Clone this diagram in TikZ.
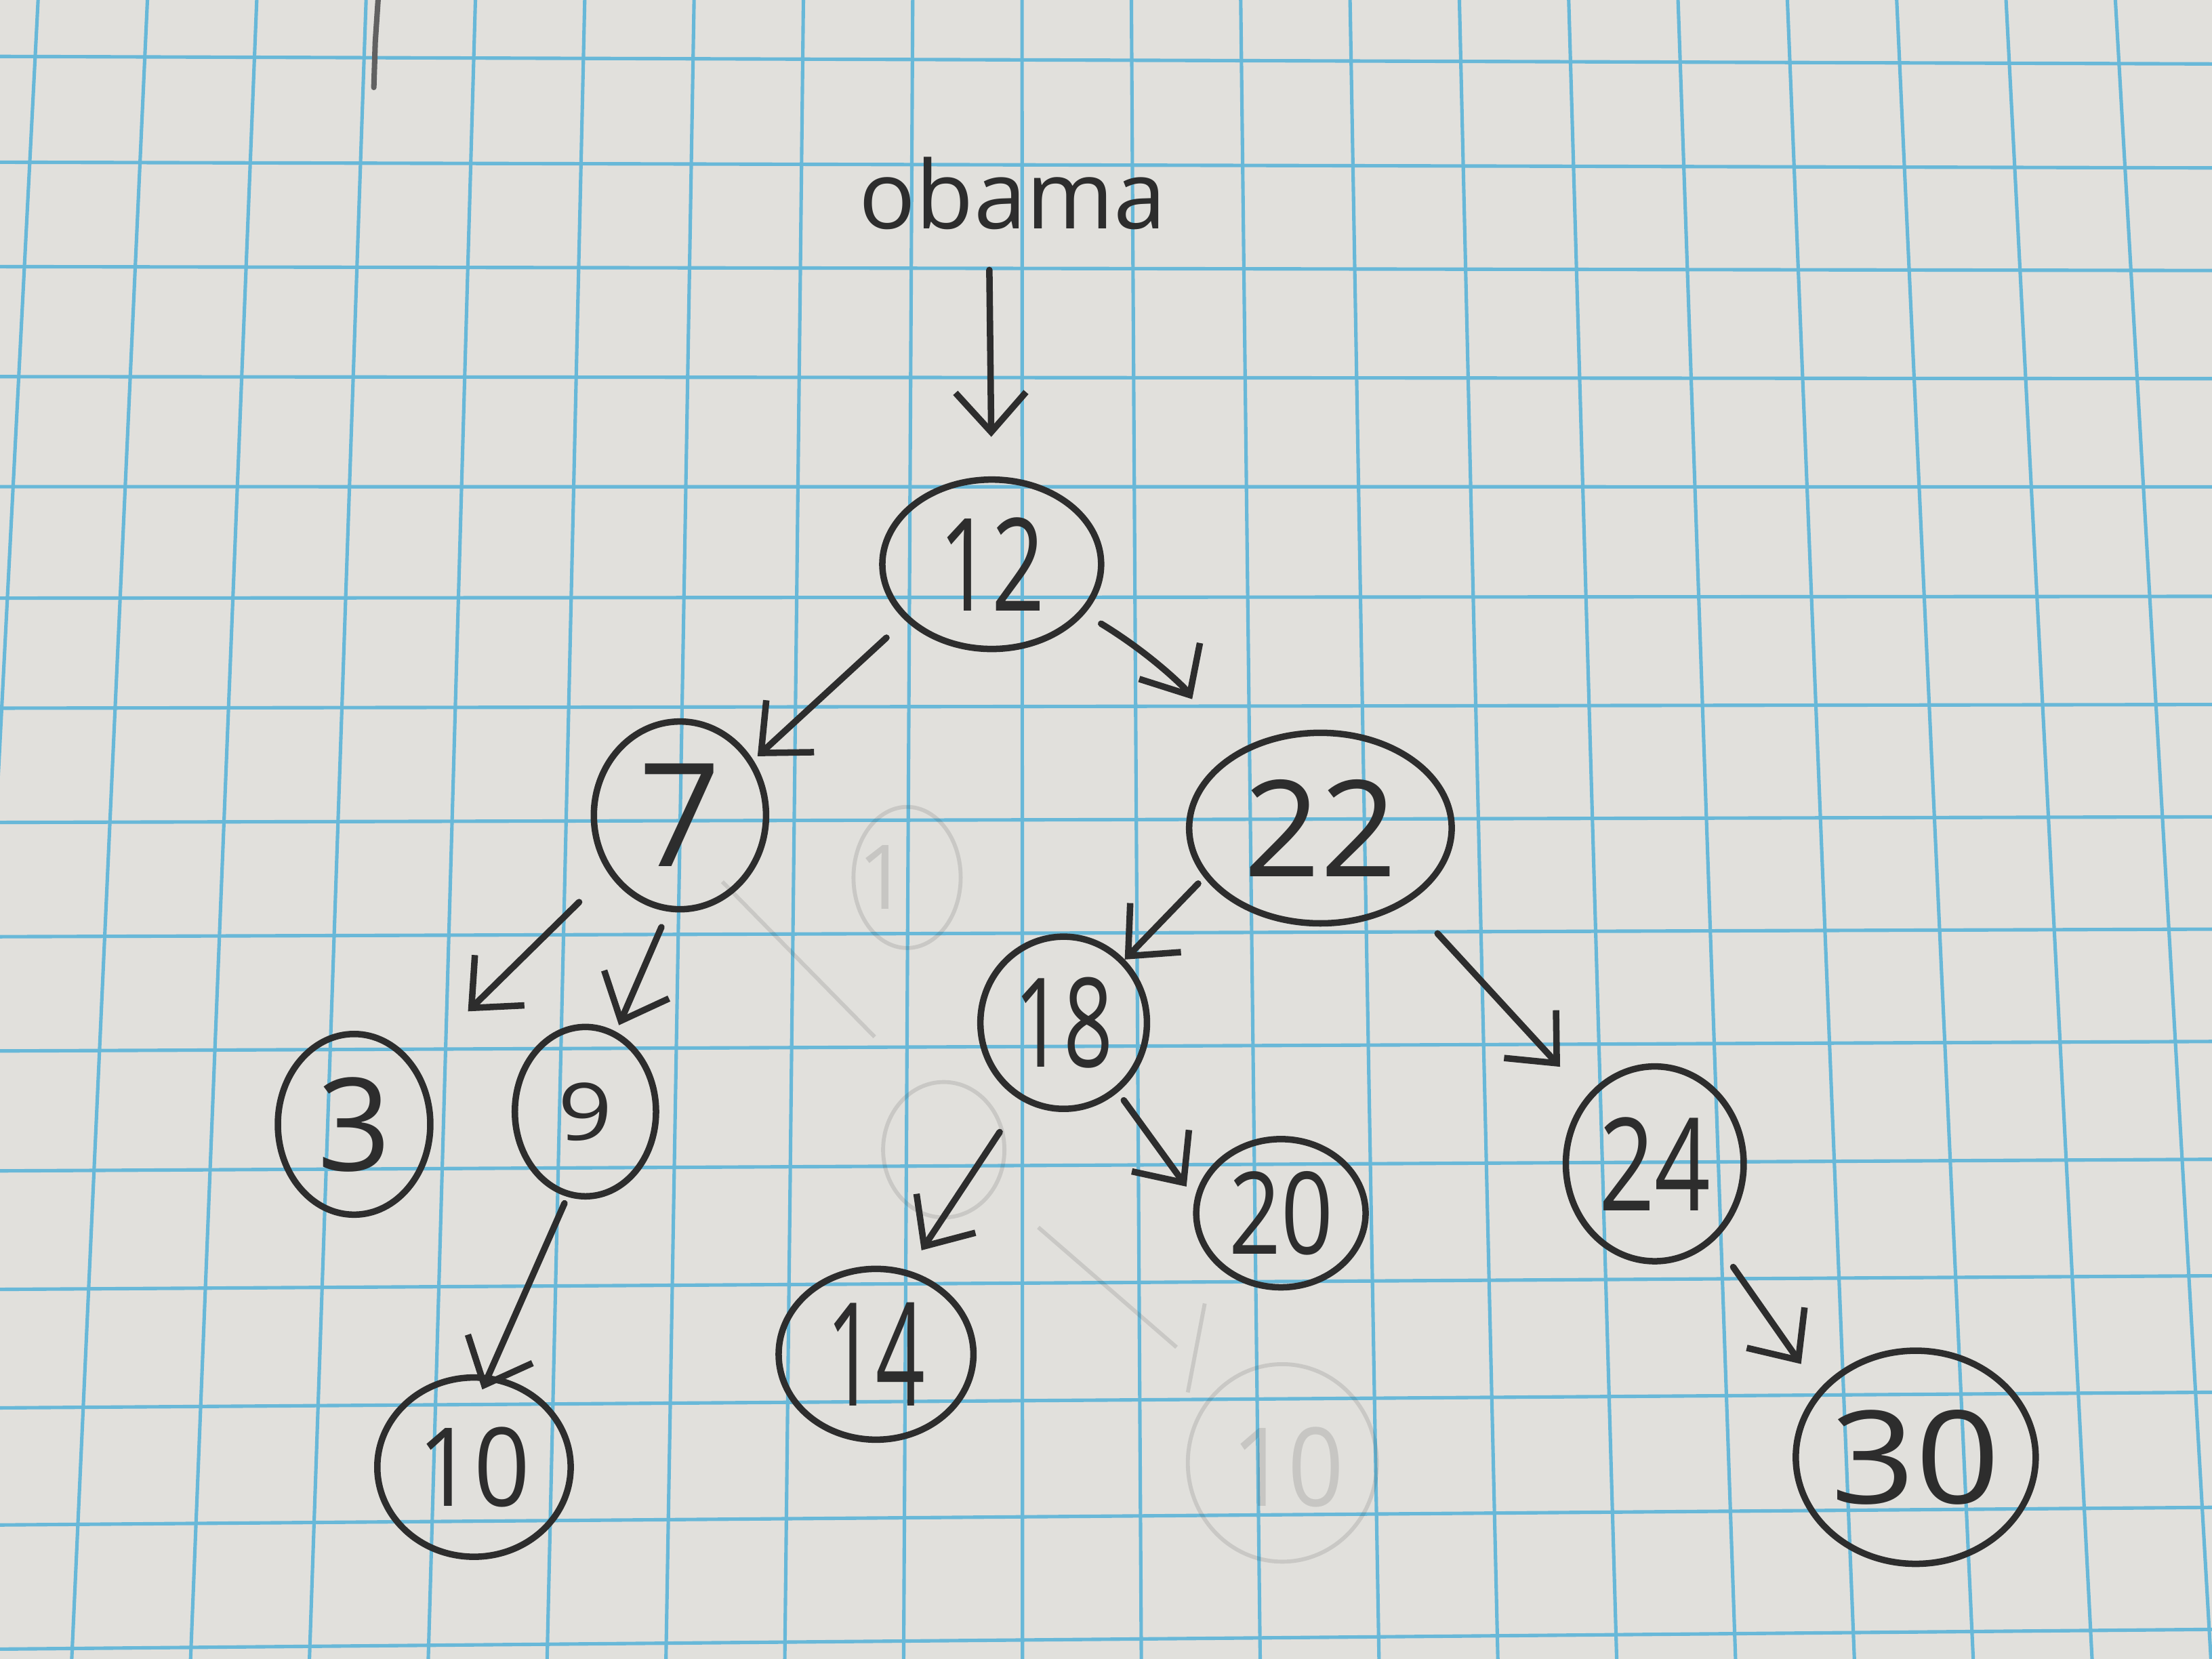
\documentclass[tikz,border=0pt]{standalone}
\usepackage{fontspec}
\setmainfont{Open Sans}
\usepackage{graphicx}
\usetikzlibrary{arrows.meta,shapes.geometric}
\definecolor{paper}{RGB}{225,224,220}
\definecolor{gridblue}{RGB}{104,184,216}
\definecolor{pencil}{RGB}{45,45,45}
\tikzset{
  nd/.style={draw=pencil, ellipse, line width=1.3pt, inner sep=0pt, text=pencil},
  arr/.style={draw=pencil, line width=1.3pt, line cap=round,
    -{Straight Barb[length=0.28cm, width=0.5cm, line width=1.3pt]}},
  gridline/.style={gridblue, line width=0.7pt},
  faint/.style={draw=pencil, draw opacity=0.13, line width=0.8pt},
  fainttext/.style={text=pencil, text opacity=0.14, inner sep=0pt},
}
\newcommand{\dg}[2][0.78]{\scalebox{#1}[1]{#2}}
\newcommand{\fs}[1]{\fontsize{#1}{#1}\selectfont}

\begin{document}
\begin{tikzpicture}[x=0.01cm, y=-0.01cm]
\fill[paper] (0,0) rectangle (1568,1176);
\useasboundingbox (0,0) rectangle (1568,1176);
\begin{scope}
  \clip (0,0) rectangle (1568,1176);
  \foreach \n in {-2,...,21} {
    \pgfmathsetmacro\xt{27+77.5*\n}
    \pgfmathsetmacro\xb{\xt+0.087*(\xt-721)}
    \draw[gridline] (\xt,0) -- (\xb,1176);
  }
  \foreach \yl in {40,115,189,267,345,424,502,583,664,745,830,914,998,1081,1169} {
    \pgfmathsetmacro\yr{\yl+6-\yl/58.5}
    \draw[gridline] (0,\yl) -- (1568,\yr);
  }
\end{scope}

% stray pencil mark top left
\draw[pencil!75, line width=1.1pt, line cap=round] (268,0) -- (266,30) -- (265,62);

% faint erased marks
\draw[faint] (643,622) ellipse (38 and 50);
\node[fainttext, font=\fs{18}] (f1) at (626,622) {1};
\draw[faint] (669,815) ellipse (43 and 48);
\draw[faint] (909,1037) ellipse (67 and 70);
\node[fainttext, font=\fs{22}] (f10) at (913,1040) {\dg[0.9]{10}};
\draw[faint] (512,625) -- (620,735);
\draw[faint] (736,870) -- (834,955);
\draw[faint] (854,924) -- (842,987);

% label
\node[anchor=base, text=pencil, inner sep=0pt, font=\fs{19}] (obama) at (718,162) {obama};

% tree nodes
\node[nd, minimum width=1.55cm, minimum height=1.20cm, font=\fs{26}] (n12) at (703,400) {\dg[0.72]{12}};
\node[nd, minimum width=1.22cm, minimum height=1.33cm, font=\fs{29}] (n7) at (482,578) {\dg[1]{7}};
\node[nd, minimum width=1.86cm, minimum height=1.35cm, font=\fs{27}] (n22) at (936,587) {\dg[1]{22}};
\node[nd, minimum width=1.08cm, minimum height=1.28cm, font=\fs{26}] (n3) at (251,797) {\dg[1]{3}};
\node[nd, minimum width=1.00cm, minimum height=1.20cm, font=\fs{16}] (n9) at (415,788) {\dg[1.2]{9}};
\node[nd, minimum width=1.37cm, minimum height=1.27cm, font=\fs{22}] (n10) at (336,1040) {\dg[0.9]{10}};
\node[nd, minimum width=1.18cm, minimum height=1.22cm, font=\fs{25}] (n18) at (754,725) {\dg[0.7]{18}};
\node[nd, minimum width=1.20cm, minimum height=1.05cm, font=\fs{23}] (n20) at (908,860) {\dg[0.8]{20}};
\node[nd, minimum width=1.38cm, minimum height=1.21cm, font=\fs{29}] (n14) at (621,960) {\dg[0.6]{14}};
\node[nd, minimum width=1.26cm, minimum height=1.38cm, font=\fs{26}] (n24) at (1173,825) {\dg[0.76]{24}};
\node[nd, minimum width=1.66cm, minimum height=1.51cm, font=\fs{26}] (n30) at (1358,1033) {\dg[1.15]{30}};

% connectors
\draw[arr, shorten <=0.28cm, shorten >=0.28cm] ([xshift=-0.17cm]obama.south) -- (n12.north);
\draw[arr, shorten <=0.18cm, shorten >=0.04cm] (n12.213) -- (n7.37);
\draw[arr, shorten <=0.135cm, shorten >=0.48cm] (n12.332) to[bend left=14] (n22.143);
\draw[arr, shorten <=0.29cm, shorten >=0.53cm] (n7.219) -- (n3.45);
\draw[arr, shorten <=0.12cm, shorten >=0.05cm] (n7.263) -- (n9.69);
\draw[arr, shorten <=0.05cm, shorten >=-0.11cm] (n9.258) -- (n10.81);
\draw[arr, shorten <=0.06cm] (n22.203) -- (n18.46);
\draw[arr, shorten <=0.30cm, shorten >=0.28cm] (n22.320) -- (n24.135);
\draw[arr, shorten <=0.27cm, shorten >=0.17cm] (n18.241) -- (n14.69);
\draw[arr, shorten <=0.07cm, shorten >=0.10cm] (n18.308) -- (n20.170);
\draw[arr, shorten <=0.23cm, shorten >=0.22cm] (n24.308) -- (n30.145);
\end{tikzpicture}
\end{document}
